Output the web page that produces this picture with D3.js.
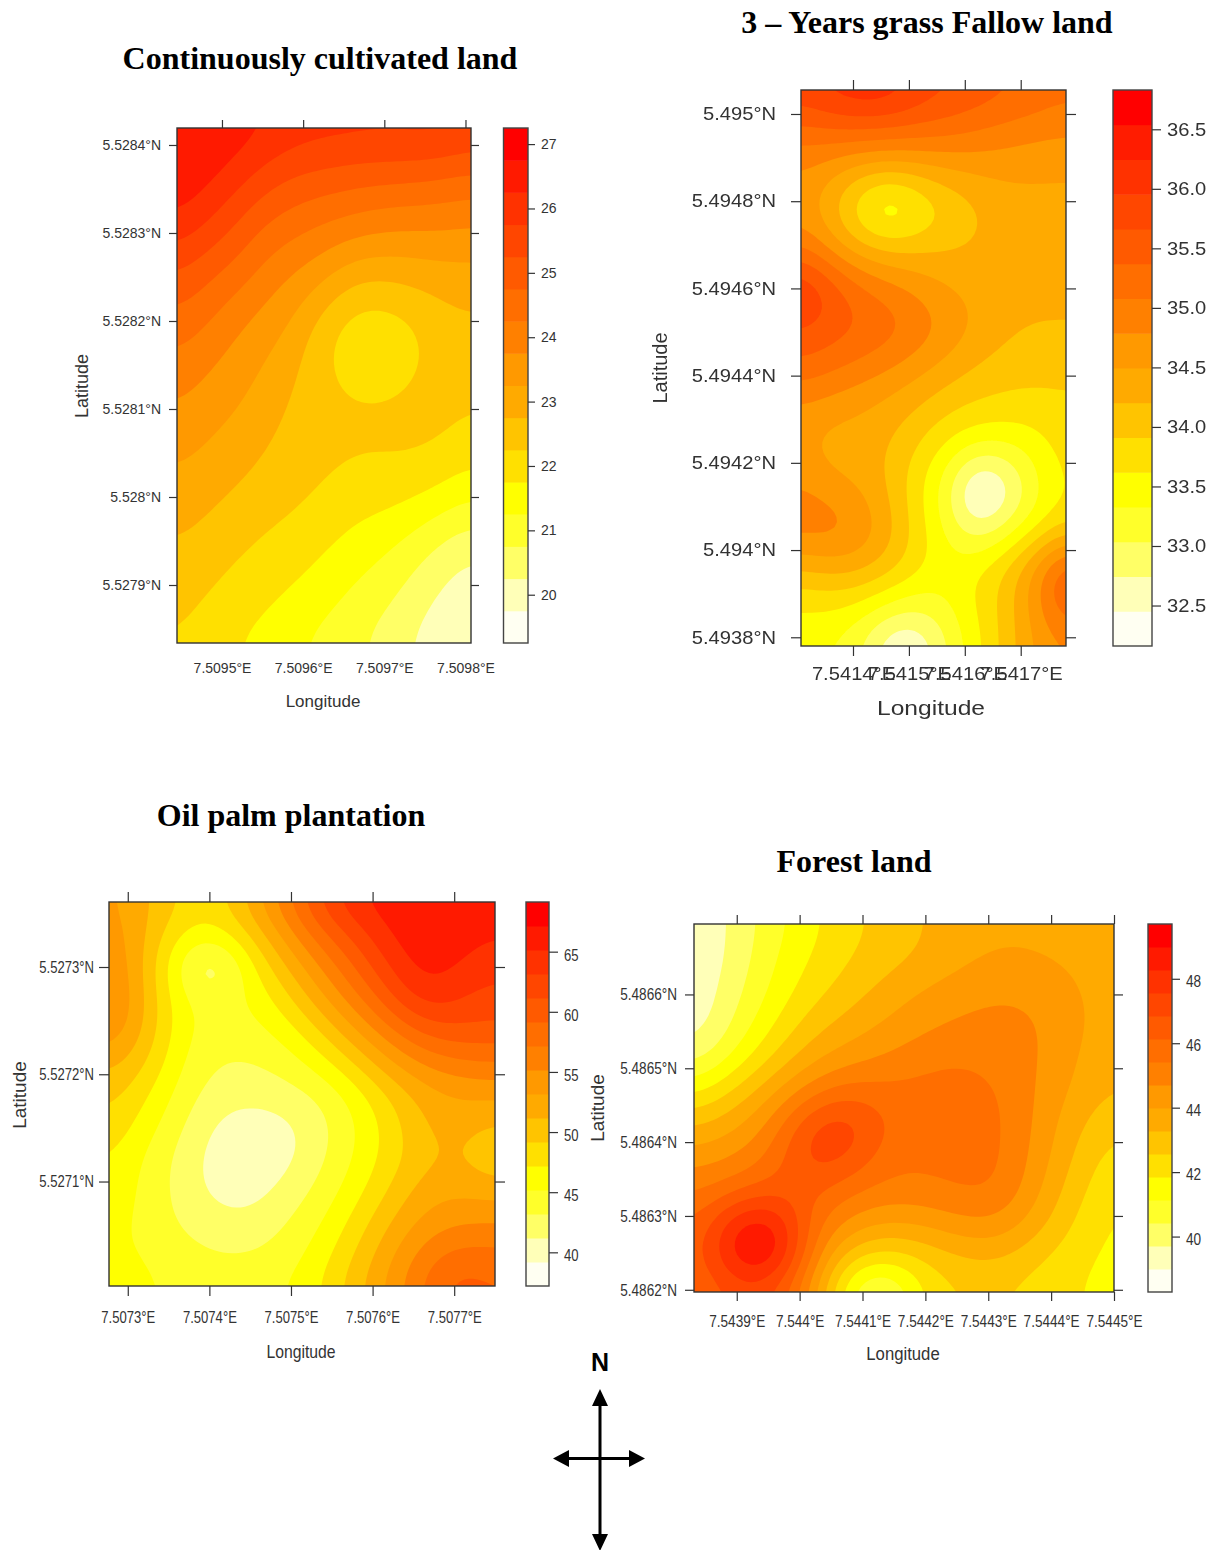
<!DOCTYPE html>
<html>
<head>
<meta charset="utf-8">
<script src="https://cdn.jsdelivr.net/npm/d3@7"></script>
<style>
  body { margin: 0; background: #fff; }
  svg { display: block; }
</style>
</head>
<body>
<div id="chart"></div>
<script>
// Colour bands, lowest to highest
const heatColors = ["#fffff2", "#ffffb8", "#ffff66", "#ffff2a", "#ffff00", "#ffe000", "#ffc400", "#ffaa00",
    "#ff9900", "#ff8000", "#ff6e00", "#ff5a00", "#ff4600", "#ff3200", "#ff1a00", "#ff0000"];

// Continuously cultivated land
const cultivatedValues = [
    [26.7, 26.7, 26.6, 26.4, 26.15, 26.1, 26.1, 26.05, 26.1, 26.2, 25.85],
    [26.65, 26.55, 26.15, 25.6, 25.3, 25.2, 25.05, 25.05, 25, 24.85, 24.75],
    [26.45, 25.95, 25.35, 24.87, 24.6, 24.4, 24.3, 24.1, 24.05, 24.05, 23.9],
    [25.55, 25.1, 24.85, 24.22, 23.96, 23.72, 23.3, 23.25, 23.25, 23.3, 23.3],
    [24.9, 24.54, 24.1, 23.77, 23.42, 22.88, 22.3, 22.25, 22.5, 22.7, 22.8],
    [24.37, 24.04, 23.67, 23.36, 23.03, 22.2, 21.75, 21.75, 21.95, 22.5, 22.6],
    [23.94, 23.63, 23.42, 23.1, 22.73, 22.35, 22.2, 22.2, 22.3, 22.5, 22.4],
    [23.57, 23.34, 23.15, 22.88, 22.57, 22.4, 22.38, 22.38, 22.4, 22.4, 22.1],
    [23.24, 23.05, 22.86, 22.64, 22.42, 22.32, 22.2, 22.2, 22.23, 22, 21.75],
    [22.94, 22.75, 22.56, 22.34, 22.26, 22.1, 21.82, 21.75, 21.5, 21.25, 20.95],
    [22.65, 22.49, 22.26, 22.1, 21.97, 21.7, 21.47, 21.25, 20.9, 20.45, 20.1],
    [22.45, 22.22, 22, 21.85, 21.62, 21.4, 21.12, 20.87, 20.5, 20.1, 19.95],
    [22.2, 21.95, 21.7, 21.55, 21.25, 21.05, 20.85, 20.5, 20.2, 19.85, 19.8]
];
const cultivatedLonTicks = [7.5095, 7.5096, 7.5097, 7.5098];
const cultivatedLatTicks = [5.5284, 5.5283, 5.5282, 5.5281, 5.528, 5.5279];
const cultivatedLegendTicks = [27, 26, 25, 24, 23, 22, 21, 20];
const cultivatedRange = [19.25, 27.25];

// 3 - Years grass fallow land
const fallowValues = [
    [35.96, 36.2, 36.41, 36.35, 35.96, 35.81, 35.66, 35.52, 35.37, 35.23],
    [35.23, 35.37, 35.37, 35.37, 35.31, 35.23, 35.08, 34.96, 34.88, 34.82],
    [34.79, 34.55, 34.35, 34.26, 34.35, 34.47, 34.55, 34.55, 34.5, 34.5],
    [34.64, 34.2, 33.4, 32.8, 33.4, 33.8, 34.1, 34.35, 34.41, 34.41],
    [35.08, 34.61, 34.29, 34.2, 34.19, 34.2, 34.26, 34.35, 34.38, 34.38],
    [36.35, 35.75, 35.23, 34.96, 34.73, 34.5, 34.38, 34.35, 34.32, 34.32],
    [35.66, 35.55, 35.45, 35.35, 35.1, 34.8, 34.5, 34.26, 34.17, 34.19],
    [35.37, 35.17, 34.99, 34.79, 34.58, 34.35, 34.15, 34.06, 34, 33.97],
    [34.67, 34.58, 34.47, 34.35, 34.17, 33.97, 33.88, 33.82, 33.82, 33.88],
    [34.55, 34.26, 34.35, 34.2, 33.88, 33.56, 33.33, 33.3, 33.42, 33.77],
    [34.85, 34.58, 34.44, 34.15, 33.62, 33.09, 31.7, 32.4, 33.24, 33.77],
    [35.08, 35.14, 34.9, 34.38, 33.77, 33.21, 32.6, 33.04, 33.42, 33.68],
    [34.2, 34.38, 34.38, 34.15, 33.74, 33.47, 33.68, 34.05, 34.7, 35.8],
    [33.56, 33.62, 33.5, 33.24, 33.12, 33.27, 33.68, 34, 34.7, 35.55],
    [33.42, 33.27, 33.04, 32.2, 32.2, 33.04, 33.5, 34.06, 34.55, 34.64]
];
const fallowLonTicks = [7.5414, 7.5415, 7.5416, 7.5417];
const fallowLatTicks = [5.495, 5.4948, 5.4946, 5.4944, 5.4942, 5.494, 5.4938];
const fallowLegendTicks = [36.5, 36, 35.5, 35, 34.5, 34, 33.5, 33, 32.5];
const fallowRange = [32.16, 36.83];

// Oil palm plantation
const palmValues = [
    [53.8, 51.8, 49, 47.6, 52.2, 56.8, 62.2, 65.5, 66.5, 66.8, 66.8, 66.8],
    [54.8, 51.8, 47.2, 46.5, 49.2, 53.8, 58.6, 61.8, 65.6, 67, 66.4, 65],
    [55.6, 51.6, 43.5, 38, 46.6, 50.8, 55.2, 59.2, 63.6, 66.6, 65, 63.6],
    [56.8, 51.6, 45.4, 44.2, 45.2, 48.2, 52.6, 56.6, 60.8, 65.5, 63.2, 62.2],
    [55.8, 51.4, 45.6, 44.2, 44.2, 45.8, 49, 53, 56.8, 60.2, 61, 60.8],
    [52.2, 49.8, 45.2, 43, 43, 43.8, 46.2, 49.2, 53, 55.8, 57, 57.2],
    [50.2, 47.6, 44.4, 42.2, 41.8, 42.4, 43, 45.8, 49.2, 52, 53.2, 53.6],
    [49.2, 46.2, 43.6, 40.6, 39.8, 40.2, 42.2, 44.8, 47.8, 51.6, 52.2, 50.5],
    [47.6, 44.8, 42.6, 40, 39.6, 40, 42.6, 45.2, 48, 50.6, 51.4, 48.5],
    [47.2, 44.6, 42.6, 40.2, 39.8, 41.8, 43.6, 46.2, 49.2, 52.6, 52.8, 52],
    [46.4, 44.4, 43, 42, 41.6, 43, 44.8, 47.8, 51.2, 53.8, 54.8, 55.2],
    [45.8, 44.8, 44, 43, 43, 44, 46, 49.2, 52.8, 56.4, 58.5, 57.6],
    [48.5, 45.2, 45, 44.8, 44.8, 45, 47, 50.6, 53.8, 58, 61, 59.2]
];
const palmLonTicks = [7.5073, 7.5074, 7.5075, 7.5076, 7.5077];
const palmLatTicks = [5.5273, 5.5272, 5.5271];
const palmLegendTicks = [65, 60, 55, 50, 45, 40];
const palmRange = [37.2, 69.13];

// Forest land
const forestValues = [
    [39, 39.78, 40.78, 41.56, 42.34, 42.77, 43.34, 43.56, 43.77, 43.7, 43.48, 43.27],
    [39, 39.75, 41.06, 41.85, 42.49, 42.91, 43.27, 43.77, 44.16, 44.06, 43.84, 43.41],
    [39, 40.1, 41.2, 42.2, 42.84, 43.56, 44.13, 44.41, 44.66, 44.55, 44.13, 43.48],
    [39, 40.4, 41.7, 42.91, 43.56, 44.06, 44.48, 44.84, 44.98, 44.84, 44.2, 43.48],
    [39.7, 41.2, 42.49, 43.7, 44.34, 44.7, 45.27, 45.41, 45.12, 44.84, 43.98, 43.34],
    [41.5, 42.7, 43.77, 45.05, 45.91, 45.7, 45.7, 45.77, 45.55, 44.63, 43.84, 43.2],
    [43.13, 43.77, 44.7, 47.2, 48, 45.95, 45.77, 45.77, 45.7, 44.55, 43.41, 42.56],
    [44.34, 44.7, 45.41, 47.6, 47.2, 45.55, 45.55, 45.77, 45.7, 44.41, 43.13, 42.06],
    [45.27, 45.77, 46.41, 46.34, 45.48, 45.2, 45.27, 45.48, 45.7, 44.06, 42.77, 41.77],
    [45.62, 48.8, 49.8, 45.77, 44.55, 43.84, 44.06, 44.55, 44.7, 43.56, 42.42, 41.56],
    [45.84, 49, 50.2, 45.41, 42.56, 41.99, 42.49, 43.13, 43.34, 42.49, 42.05, 41.6],
    [45.84, 46.69, 46.55, 44.77, 40.56, 38.85, 42.2, 42.49, 42.56, 42.2, 41.95, 41.4]
];
const forestLonTicks = [7.5439, 7.544, 7.5441, 7.5442, 7.5443, 7.5444, 7.5445];
const forestLatTicks = [5.4866, 5.4865, 5.4864, 5.4863, 5.4862];
const forestLegendTicks = [48, 46, 44, 42, 40];
const forestRange = [38.28, 49.7];

const panels = [
    { title: "Continuously cultivated land", titleX: 320, titleY: 69, values: cultivatedValues, range: cultivatedRange,
      lonTicks: cultivatedLonTicks, latTicks: cultivatedLatTicks, legendTicks: cultivatedLegendTicks,
      lonExtent: [7.5094446, 7.5098068], latExtent: [5.5278341, 5.5284193],
      box: [177, 471, 128, 643], bar: [503.5, 528], tick: 8, bottomTicks: false, font: 14, squeeze: 1,
      padLeft: 8, padBottom: 12, keyDy: 0, barFormat: d => d,
      lonLabel: [323, 707, 17, 1], latLabel: [88, 386, 18, 1] },
    { title: "3 – Years grass Fallow land", titleX: 927, titleY: 33, values: fallowValues, range: fallowRange,
      lonTicks: fallowLonTicks, latTicks: fallowLatTicks, legendTicks: fallowLegendTicks,
      lonExtent: [7.541307, 7.541781], latExtent: [5.49378, 5.495055],
      box: [801, 1066, 90, 646], bar: [1113, 1152], tick: 10, bottomTicks: true, font: 18, squeeze: 1.12,
      padLeft: 15, padBottom: 11, keyDy: 0, barFormat: d3.format(".1f"), blur: true,
      lonLabel: [931, 715, 20, 1.23], latLabel: [667, 368, 20, 1] },
    { title: "Oil palm plantation", titleX: 291, titleY: 826, values: palmValues, range: palmRange,
      lonTicks: palmLonTicks, latTicks: palmLatTicks, legendTicks: palmLegendTicks,
      lonExtent: [7.507277, 7.50775], latExtent: [5.5270026, 5.5273606],
      box: [109, 495, 902, 1286], bar: [526, 549], tick: 10, bottomTicks: true, font: 17, squeeze: 0.77,
      padLeft: 5, padBottom: 15, keyDy: 3, barFormat: d => d,
      lonLabel: [301, 1358, 19, 0.83], latLabel: [26, 1095, 19, 1] },
    { title: "Forest land", titleX: 854, titleY: 872, values: forestValues, range: forestRange,
      lonTicks: forestLonTicks, latTicks: forestLatTicks, legendTicks: forestLegendTicks,
      lonExtent: [7.543832, 7.5445], latExtent: [5.486197, 5.4866954],
      box: [694, 1114, 924, 1292], bar: [1148, 1172], tick: 9, bottomTicks: true, font: 17, squeeze: 0.8,
      padLeft: 8, padBottom: 14, keyDy: 2, barFormat: d => d,
      lonLabel: [903, 1360, 19, 0.88], latLabel: [604, 1108, 19, 1] }
];

const svg = d3.select("#chart").append("svg")
    .attr("width", 1217)
    .attr("height", 1550)
    .style("font-family", "'Liberation Sans', Arial, sans-serif");

svg.append("defs").append("filter").attr("id", "soft")
    .append("feGaussianBlur").attr("stdDeviation", 0.6);

const ringLine = d3.line();

// Resample the read grid finer and soften it, so the contour edges come out round
const fine = 8;
function smoothField(rows) {
    const ny = rows.length, nx = rows[0].length;
    const width = (nx - 1) * fine + 1, height = (ny - 1) * fine + 1;
    const data = new Float64Array(width * height);
    for (let j = 0; j < height; j++) {
        const r = Math.min(Math.floor(j / fine), ny - 2), v = j / fine - r;
        for (let k = 0; k < width; k++) {
            const c = Math.min(Math.floor(k / fine), nx - 2), u = k / fine - c;
            const top = d3.interpolateNumber(rows[r][c], rows[r][c + 1])(u);
            const low = d3.interpolateNumber(rows[r + 1][c], rows[r + 1][c + 1])(u);
            data[j * width + k] = d3.interpolateNumber(top, low)(v);
        }
    }
    d3.blur2({ data, width, height }, 4);
    return { data, width, height };
}

panels.forEach((p, i) => {
    svg.append("text")
        .attr("x", p.titleX)
        .attr("y", p.titleY)
        .attr("text-anchor", "middle")
        .style("font-family", "'Liberation Serif', 'Times New Roman', serif")
        .style("font-weight", "bold")
        .style("font-size", "32px")
        .attr("fill", "#000")
        .text(p.title);

    const g = svg.append("g");
    if (p.blur) g.attr("filter", "url(#soft)");

    const [x0, x1, y0, y1] = p.box;
    const x = d3.scaleLinear().domain(p.lonExtent).range([x0, x1]);
    const y = d3.scaleLinear().domain(p.latExtent).range([y1, y0]);

    const field = smoothField(p.values);
    // d3.contours puts grid point k at k + 0.5, the half cell outside gets clipped
    const gridX = d3.scaleLinear().domain([0.5, field.width - 0.5]).range([x0, x1]);
    const gridY = d3.scaleLinear().domain([0.5, field.height - 0.5]).range([y0, y1]);

    const step = (p.range[1] - p.range[0]) / heatColors.length;
    const levels = heatColors.map((c, k) => p.range[0] + k * step);

    g.append("clipPath").attr("id", "plot" + i)
        .append("rect")
        .attr("x", x0).attr("y", y0)
        .attr("width", x1 - x0).attr("height", y1 - y0);

    const plot = g.append("g").attr("clip-path", `url(#plot${i})`);
    plot.append("rect")
        .attr("x", x0).attr("y", y0)
        .attr("width", x1 - x0).attr("height", y1 - y0)
        .attr("fill", heatColors[0]);

    const contours = d3.contours()
        .size([field.width, field.height])
        .smooth(true)
        .thresholds(levels.slice(1))(Array.from(field.data));

    plot.selectAll("path")
        .data(contours)
        .enter()
        .append("path")
        .attr("fill", (d, k) => heatColors[k + 1])
        .attr("fill-rule", "evenodd")
        .attr("d", d => d.coordinates.flat()
            .map(ring => ringLine(ring.map(q => [gridX(q[0]), gridY(q[1])])) + "Z")
            .join(""));

    g.append("rect")
        .attr("x", x0).attr("y", y0)
        .attr("width", x1 - x0).attr("height", y1 - y0)
        .attr("fill", "none")
        .attr("stroke", "#333")
        .attr("stroke-width", 1.4);

    // Axes on all four sides, labels only left and bottom
    const squeezeText = sel => sel.selectAll("text").each(function () {
        const t = d3.select(this);
        t.attr("x", +t.attr("x") / p.squeeze)
            .attr("transform", `scale(${p.squeeze},1)`);
    });
    const tidy = sel => {
        sel.select(".domain").remove();
        sel.selectAll("line").attr("stroke", "#333").attr("stroke-width", 1.2);
        sel.selectAll("text").attr("fill", "#333").style("font-size", p.font + "px");
        squeezeText(sel);
    };

    g.append("g").attr("transform", `translate(${x0},0)`)
        .call(d3.axisLeft(y).tickValues(p.latTicks).tickSize(p.tick).tickPadding(p.padLeft).tickFormat(d => d + "°N"))
        .call(tidy);
    g.append("g").attr("transform", `translate(${x1},0)`)
        .call(d3.axisRight(y).tickValues(p.latTicks).tickSize(p.tick).tickFormat(""))
        .call(tidy);
    g.append("g").attr("transform", `translate(0,${y0})`)
        .call(d3.axisTop(x).tickValues(p.lonTicks).tickSize(p.tick).tickFormat(""))
        .call(tidy);
    const bottom = g.append("g").attr("transform", `translate(0,${y1})`)
        .call(d3.axisBottom(x).tickValues(p.lonTicks).tickSize(p.tick).tickPadding(p.padBottom).tickFormat(d => d + "°E"))
        .call(tidy);
    if (!p.bottomTicks) bottom.selectAll("line").remove();

    // Colour key
    const key = d3.scaleLinear().domain(p.range).range([y1, y0]);
    g.append("g").selectAll("rect")
        .data(levels)
        .enter()
        .append("rect")
        .attr("x", p.bar[0])
        .attr("width", p.bar[1] - p.bar[0])
        .attr("y", d => key(d + step))
        .attr("height", d => key(d) - key(d + step) + 0.5)
        .attr("fill", (d, k) => heatColors[k]);
    g.append("rect")
        .attr("x", p.bar[0]).attr("y", y0)
        .attr("width", p.bar[1] - p.bar[0]).attr("height", y1 - y0)
        .attr("fill", "none")
        .attr("stroke", "#444")
        .attr("stroke-width", 1.4);
    g.append("g").attr("transform", `translate(${p.bar[1]},0)`)
        .call(d3.axisRight(key).tickValues(p.legendTicks).tickSize(p.tick - 1).tickPadding(6).tickFormat(p.barFormat))
        .call(tidy)
        .call(sel => sel.selectAll("text").attr("y", p.keyDy));

    // Axis titles
    g.append("text")
        .attr("transform", `translate(${p.lonLabel[0]},${p.lonLabel[1]}) scale(${p.lonLabel[3]},1)`)
        .attr("text-anchor", "middle")
        .attr("fill", "#333")
        .style("font-size", p.lonLabel[2] + "px")
        .text("Longitude");
    g.append("text")
        .attr("transform", `translate(${p.latLabel[0]},${p.latLabel[1]}) rotate(-90) scale(${p.latLabel[3]},1)`)
        .attr("text-anchor", "middle")
        .attr("fill", "#333")
        .style("font-size", p.latLabel[2] + "px")
        .text("Latitude");
});

// North arrow
const compass = svg.append("g");
compass.append("text")
    .attr("x", 600).attr("y", 1371)
    .attr("text-anchor", "middle")
    .style("font-size", "25px")
    .style("font-weight", "bold")
    .text("N");
compass.append("path")
    .attr("d", "M600,1400V1538M564,1458.5H635")
    .attr("stroke", "#000")
    .attr("stroke-width", 3)
    .attr("fill", "none");
compass.append("path")
    .attr("d", "M600,1389L608,1406H592ZM600,1551L608,1534H592ZM553,1458.5L569,1450V1467ZM645,1458.5L629,1450V1467Z")
    .attr("fill", "#000");
</script>
</body>
</html>
